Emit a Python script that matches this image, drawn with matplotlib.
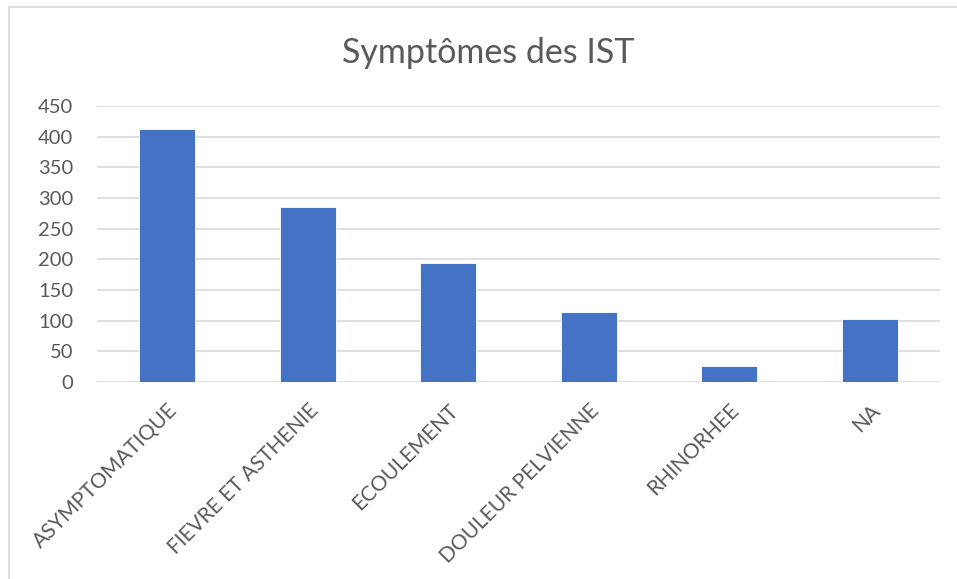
import matplotlib
matplotlib.use("Agg")
import matplotlib.pyplot as plt
from matplotlib.patches import Rectangle

categories = ["ASYMPTOMATIQUE", "FIEVRE ET ASTHENIE", "ECOULEMENT",
              "DOULEUR PELVIENNE", "RHINORHEE", "NA"]
values = [412, 286, 194, 114, 26, 103]
yticks = [0, 50, 100, 150, 200, 250, 300, 350, 400, 450]
title = "Symptômes des IST"

plt.rcParams['font.family'] = ['Lato', 'DejaVu Sans']
W, H = 957, 579
fig = plt.figure(figsize=(W / 100, H / 100), dpi=100)

# chart border (cropped at right/bottom)
fig.patches.append(Rectangle((9 / W, -0.1), 1.2, 1 - 7 / H + 0.1,
                             transform=fig.transFigure, fill=False,
                             edgecolor="#D9D9D9", linewidth=1.2))

left, right, bottom, top = 97, 940, 382, 106
ax = fig.add_axes([left / W, 1 - bottom / H, (right - left) / W, (bottom - top) / H])

x = range(len(categories))
ax.bar(x, values, width=0.4, color="#4472C4", edgecolor="white", linewidth=0.6, zorder=3)
ax.set_xlim(-0.5, len(categories) - 0.5)
ax.set_ylim(0, 450)
ax.set_yticks(yticks)
ax.set_yticklabels([str(v) for v in yticks], fontsize=14.5, color="#595959")
ax.yaxis.grid(True, color="#D9D9D9", linewidth=1.2, zorder=0)
ax.set_axisbelow(True)
for s in ax.spines.values():
    s.set_visible(False)
ax.tick_params(axis='both', length=0)
ax.tick_params(axis='y', pad=17)
ax.set_xticks(list(x))
ax.set_xticklabels(categories, rotation=45, ha='right', va='top',
                   rotation_mode='anchor', fontsize=15, color="#595959")
ax.tick_params(axis='x', pad=13)

fig.text(488 / W, 1 - 53 / H, title, ha='center', va='center',
         fontsize=24.5, color="#595959")

fig.savefig("out.png", dpi=100)
